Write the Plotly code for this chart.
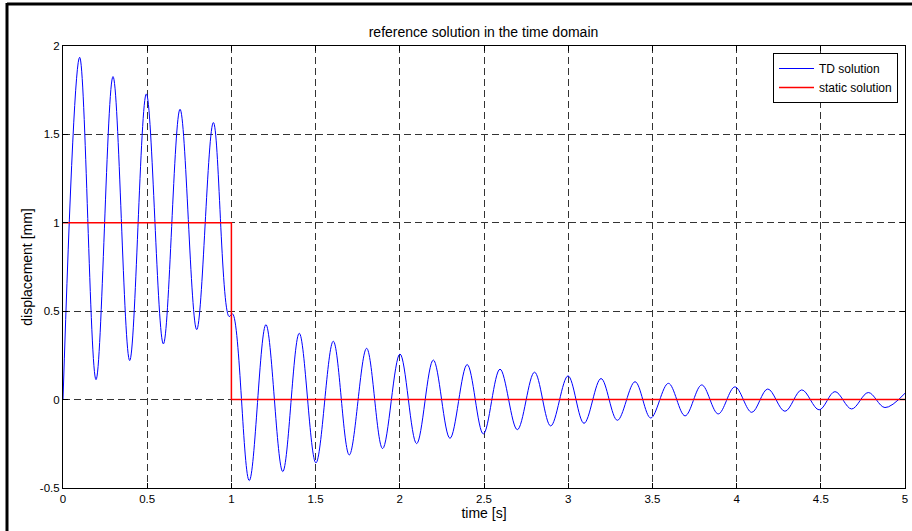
import plotly.graph_objects as go

# ---- data ----
td_time = [0.0, 0.099, 0.196, 0.297, 0.396, 0.495, 0.596, 0.695, 0.794, 0.893,
           0.986, 1.007, 1.106, 1.205, 1.305, 1.403, 1.502, 1.605, 1.700, 1.803,
           1.898, 2.001, 2.100, 2.199, 2.298, 2.400, 2.496, 2.595, 2.698, 2.800,
           2.896, 2.999, 3.094, 3.195, 3.292, 3.397, 3.490, 3.595, 3.694, 3.793,
           3.891, 3.990, 4.090, 4.185, 4.287, 4.387, 4.490, 4.584, 4.683, 4.782,
           4.881, 5.000]
td_disp = [0.0, 1.936, 0.113, 1.827, 0.221, 1.729, 0.315, 1.642, 0.396, 1.567,
           0.470, 0.485, -0.458, 0.424, -0.407, 0.375, -0.358, 0.330, -0.313, 0.290,
           -0.277, 0.258, -0.249, 0.224, -0.219, 0.198, -0.194, 0.172, -0.170, 0.155,
           -0.149, 0.134, -0.134, 0.119, -0.117, 0.101, -0.104, 0.092, -0.092, 0.083,
           -0.081, 0.072, -0.072, 0.060, -0.066, 0.055, -0.058, 0.045, -0.053, 0.040,
           -0.045, 0.036]

static_time = [0.0, 1.0, 1.0, 5.0]
static_disp = [1.0, 1.0, 0.0, 0.0]

x_ticks = [0, 0.5, 1, 1.5, 2, 2.5, 3, 3.5, 4, 4.5, 5]
x_tick_labels = ["0", "0.5", "1", "1.5", "2", "2.5", "3", "3.5", "4", "4.5", "5"]
y_ticks = [-0.5, 0, 0.5, 1, 1.5, 2]
y_tick_labels = ["-0.5", "0", "0.5", "1", "1.5", "2"]

title_text = "reference solution in the time domain"
x_title = "time [s]"
y_title = "displacement [mm]"

FONT = "Liberation Sans, Arial, Helvetica, sans-serif"

fig = go.Figure()
fig.add_trace(go.Scatter(x=td_time, y=td_disp, mode="lines", name="TD solution",
                         line=dict(color="#0000ff", width=1, shape="spline", smoothing=1.0)))
fig.add_trace(go.Scatter(x=static_time, y=static_disp, mode="lines", name="static solution",
                         line=dict(color="#ff0000", width=1.5)))

W, H = 912, 531
L, R, T, B = 63, 7, 46, 43
pw, ph = W - L - R, H - T - B

def px_x(p):
    return (p - L) / pw

def px_y(p):
    return (H - B - p) / ph

axis_common = dict(showline=True, linecolor="black", linewidth=1, mirror="ticks",
                   ticks="inside", ticklen=5, tickcolor="black", tickwidth=1,
                   showgrid=True, gridcolor="#333333", gridwidth=1, griddash="7px,4px",
                   zeroline=False, tickfont=dict(family=FONT, size=11.5, color="black"))

fig.update_xaxes(range=[0, 5], tickvals=x_ticks, ticktext=x_tick_labels,
                 title=dict(text=x_title, font=dict(family=FONT, size=14, color="black"), standoff=4),
                 **axis_common)
fig.update_yaxes(range=[-0.5, 2], tickvals=y_ticks, ticktext=y_tick_labels,
                 title=dict(text=y_title, font=dict(family=FONT, size=14, color="black"), standoff=3),
                 **axis_common)

fig.update_layout(
    width=W, height=H,
    margin=dict(l=L, r=R, t=T, b=B, autoexpand=False),
    paper_bgcolor="white", plot_bgcolor="white",
    font=dict(family=FONT, color="black"),
    title=dict(text=title_text, x=(483.5) / W, xanchor="center", y=1 - 32 / H, yanchor="middle",
               font=dict(family=FONT, size=14, color="black")),
    legend=dict(x=px_x(898), xanchor="right", y=px_y(53), yanchor="top",
                bgcolor="white", bordercolor="black", borderwidth=1,
                font=dict(family=FONT, size=12, color="black"),
                itemwidth=35, tracegroupgap=0),
    showlegend=True,
    shapes=[
        dict(type="line", xref="paper", yref="paper", x0=px_x(7), x1=px_x(7),
             y0=px_y(H + 5), y1=px_y(3), line=dict(color="black", width=3)),
        dict(type="line", xref="paper", yref="paper", x0=px_x(7), x1=px_x(W + 5),
             y0=px_y(4), y1=px_y(4), line=dict(color="black", width=3)),
    ],
)

fig.write_html("out.html", config={"displayModeBar": False},
               post_script="document.body.style.margin='0px';")
